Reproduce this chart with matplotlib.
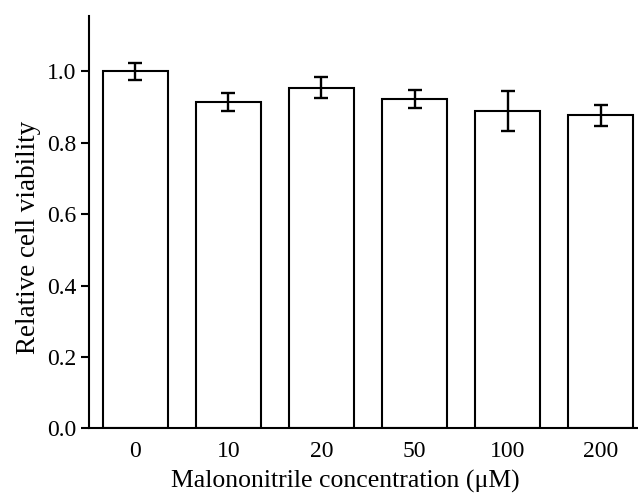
import matplotlib
matplotlib.use("Agg")
import matplotlib.pyplot as plt
import numpy as np

categories = ["0", "10", "20", "50", "100", "200"]
viability = [1.000, 0.913, 0.954, 0.922, 0.890, 0.877]
errors = [0.024, 0.025, 0.029, 0.025, 0.056, 0.029]
yticks = [0.0, 0.2, 0.4, 0.6, 0.8, 1.0]

plt.rcParams['font.family'] = ['Liberation Serif', 'DejaVu Serif']

W, H = 638, 500
fig = plt.figure(figsize=(W / 100, H / 100), dpi=100)
left, right, top, bottom = 88.7, 638, 16, 428.3
ax = fig.add_axes([left / W, 1 - bottom / H, (right - left) / W, (bottom - top) / H])

x = np.arange(len(categories))
ax.bar(x, viability, width=0.70, color='white', edgecolor='black', linewidth=1.5, zorder=2)
ax.errorbar(x, viability, yerr=errors, fmt='none', ecolor='black', elinewidth=1.7,
            capsize=4.8, capthick=1.7, zorder=3)

ax.set_xlim(-0.5, 5.4)
ax.set_ylim(0, 1.155)
ax.set_xticks(x)
ax.set_xticklabels(categories)
ax.set_yticks(yticks)
ax.set_yticklabels([f"{v:.1f}" for v in yticks])

for s in ['top', 'right']:
    ax.spines[s].set_visible(False)
for s in ['left', 'bottom']:
    ax.spines[s].set_linewidth(1.5)

ax.tick_params(axis='x', length=0, pad=9, labelsize=17)
ax.tick_params(axis='y', direction='out', length=6, width=1.5, pad=3, labelsize=17)

ax.set_xlabel("Malononitrile concentration (\u03bcM)", fontsize=18.5)
ax.set_ylabel("Relative cell viability", fontsize=19.5)
ax.xaxis.set_label_coords(0.468, -0.130)
ax.xaxis.label.set_va('center')
ax.yaxis.set_label_coords(-0.11, 0.464)
ax.yaxis.label.set_va('center')

fig.savefig("out.png", dpi=100)
